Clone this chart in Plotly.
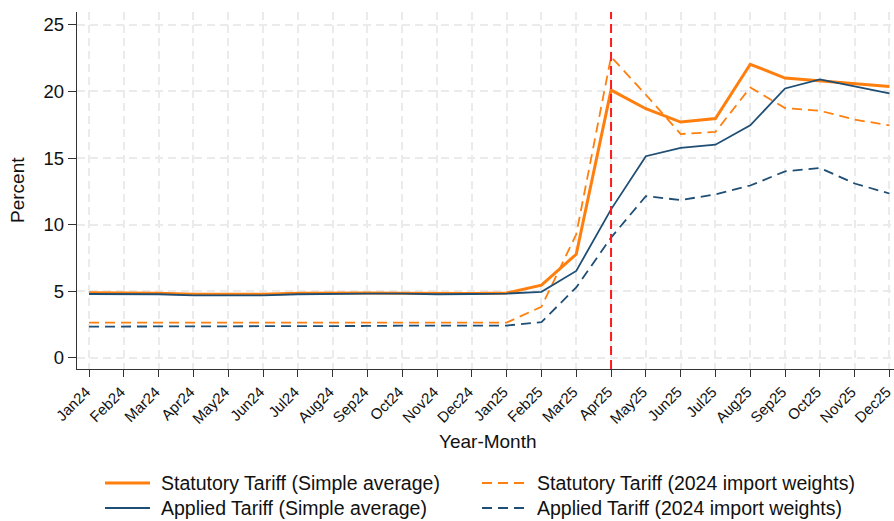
import plotly.graph_objects as go

# Monthly periods
months = ["Jan24", "Feb24", "Mar24", "Apr24", "May24", "Jun24", "Jul24", "Aug24",
          "Sep24", "Oct24", "Nov24", "Dec24", "Jan25", "Feb25", "Mar25", "Apr25",
          "May25", "Jun25", "Jul25", "Aug25", "Sep25", "Oct25", "Nov25", "Dec25"]

# Tariff rates, percent
statutory_simple = [4.90, 4.88, 4.85, 4.78, 4.78, 4.78, 4.85, 4.88, 4.88, 4.86, 4.83, 4.83,
                    4.87, 5.46, 7.78, 20.10, 18.70, 17.70, 17.96, 22.04, 21.00, 20.80, 20.60, 20.37]
statutory_weighted = [2.65, 2.65, 2.65, 2.65, 2.65, 2.65, 2.65, 2.65, 2.65, 2.65, 2.65, 2.65,
                      2.65, 3.84, 9.28, 22.60, 19.75, 16.80, 16.96, 20.30, 18.75, 18.55, 17.88, 17.46]
applied_simple = [4.80, 4.80, 4.78, 4.70, 4.70, 4.70, 4.78, 4.82, 4.83, 4.82, 4.78, 4.80,
                  4.83, 4.96, 6.53, 11.15, 15.14, 15.76, 16.00, 17.46, 20.22, 20.90, 20.37, 19.85]
applied_weighted = [2.35, 2.35, 2.35, 2.35, 2.37, 2.38, 2.40, 2.40, 2.40, 2.42, 2.42, 2.42,
                    2.43, 2.69, 5.29, 9.03, 12.14, 11.85, 12.27, 12.94, 14.00, 14.26, 13.09, 12.34]

event_month = "Apr25"
y_ticks = [0, 5, 10, 15, 20, 25]

ORANGE = "#FF7F0E"
NAVY = "#1F4E74"
GRID = "#EBEBEB"
AXIS = "#333333"
FONT = "Liberation Sans, Arial, Helvetica, sans-serif"
DASH = "10px,6px"

series = [
    ("Statutory Tariff (Simple average)", statutory_simple, ORANGE, 3.0, "solid"),
    ("Statutory Tariff (2024 import weights)", statutory_weighted, ORANGE, 1.8, DASH),
    ("Applied Tariff (Simple average)", applied_simple, NAVY, 1.8, "solid"),
    ("Applied Tariff (2024 import weights)", applied_weighted, NAVY, 1.8, DASH),
]

fig = go.Figure()
for name, vals, color, width, dash in series:
    fig.add_trace(go.Scatter(x=months, y=vals, mode="lines", name=name,
                             line=dict(color=color, width=width, dash=dash),
                             showlegend=False))

# Vertical marker at the policy change
fig.add_shape(type="line", xref="x", yref="paper",
              x0=event_month, x1=event_month, y0=0, y1=1,
              line=dict(color="#FF1A1A", width=2, dash="9px,5px"))

# Two-column legend below the plot, drawn as key lines plus labels
W, H = 894, 521
L, R, T, B = 77, 0, 12, 152
pw, ph = W - L - R, H - T - B


def px_to_paper_x(px):
    return (px - L) / pw


def px_to_paper_y(py):
    return (H - B - py) / ph


legend_rows = [483, 508]
legend_cols = [(105, 150, 159), (482, 527, 535)]
legend_layout = [(0, 0), (0, 1), (1, 0), (1, 1)]  # (row, col) per series
for (name, vals, color, width, dash), (r, c) in zip(series, legend_layout):
    x0, x1, xt = legend_cols[c]
    yy = px_to_paper_y(legend_rows[r])
    fig.add_shape(type="line", xref="paper", yref="paper",
                  x0=px_to_paper_x(x0), x1=px_to_paper_x(x1), y0=yy, y1=yy,
                  line=dict(color=color, width=width, dash=dash))
    fig.add_annotation(xref="paper", yref="paper", x=px_to_paper_x(xt), y=yy,
                       xanchor="left", yanchor="middle", showarrow=False,
                       text=name, font=dict(size=19.5, family=FONT, color="#111111"))

# Axis titles
fig.add_annotation(xref="paper", yref="paper", x=px_to_paper_x(488), y=px_to_paper_y(441),
                   xanchor="center", yanchor="middle", showarrow=False,
                   text="Year-Month", font=dict(size=19, family=FONT, color="#111111"))
fig.add_annotation(xref="paper", yref="paper", x=px_to_paper_x(17), y=px_to_paper_y(190),
                   xanchor="center", yanchor="middle", showarrow=False, textangle=-90,
                   text="Percent", font=dict(size=19, family=FONT, color="#111111"))

fig.update_layout(
    width=W, height=H,
    margin=dict(l=L, r=R, t=T, b=B, autoexpand=False),
    paper_bgcolor="white", plot_bgcolor="white",
    font=dict(family=FONT, color="#111111"),
    showlegend=False,
    xaxis=dict(
        type="category", categoryorder="array", categoryarray=months,
        range=[-0.345, 23.13], automargin=False,
        tickangle=-45, tickfont=dict(size=15), ticklabelshift=-3,
        ticks="outside", ticklen=7, tickcolor=AXIS, tickwidth=1.2,
        showline=True, linecolor=AXIS, linewidth=1.4,
        showgrid=True, gridcolor=GRID, griddash="8px,5px", gridwidth=1.6,
        zeroline=False,
    ),
    yaxis=dict(
        range=[-0.83, 25.96], tickvals=y_ticks, automargin=False,
        tickfont=dict(size=18.5),
        ticks="outside", ticklen=8, tickcolor=AXIS, tickwidth=1.2,
        showline=True, linecolor=AXIS, linewidth=1.4,
        showgrid=True, gridcolor=GRID, griddash="8px,5px", gridwidth=1.6,
        zeroline=False,
    ),
)

fig.write_html("out.html")
